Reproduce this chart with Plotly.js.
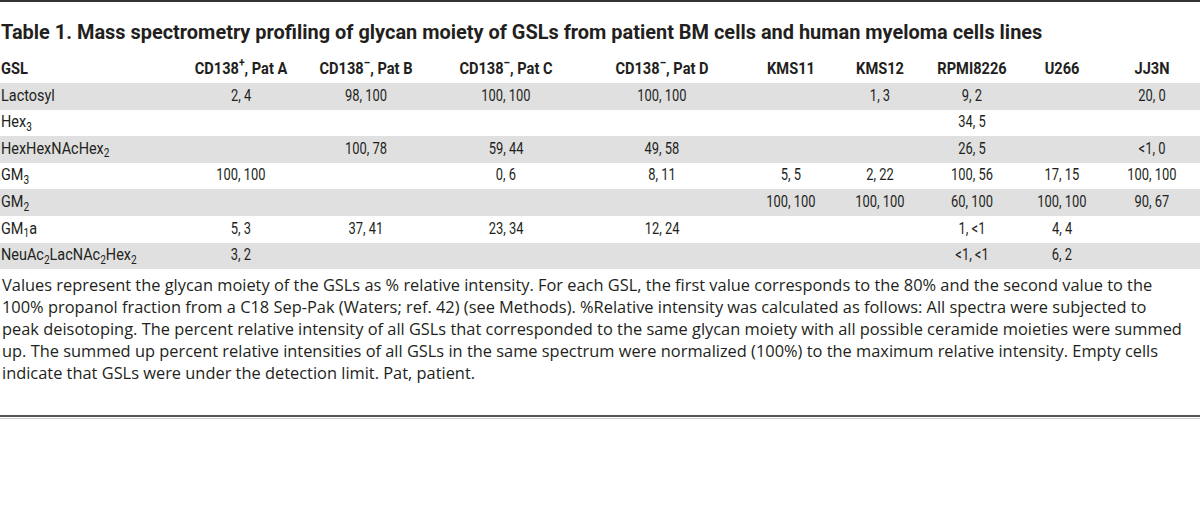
<!DOCTYPE html>
<html>
<head>
<meta charset="utf-8">
<script src="https://cdn.plot.ly/plotly-3.0.1.min.js"></script>
<style>
html,body{margin:0;padding:0;background:#fff;overflow:hidden;}
#chart{position:absolute;left:0;top:0;width:1200px;height:511px;}
</style>
</head>
<body>
<div id="chart"></div>
<script>
// ---- data ----
const tableTitle = "Table 1. Mass spectrometry profiling of glycan moiety of GSLs from patient BM cells and human myeloma cells lines";
const columnHeaders = ["GSL", "CD138<sup>+</sup>, Pat A", "CD138<sup>–</sup>, Pat B", "CD138<sup>–</sup>, Pat C", "CD138<sup>–</sup>, Pat D", "KMS11", "KMS12", "RPMI8226", "U266", "JJ3N"];
const gslNames = ["Lactosyl", "Hex<sub>3</sub>", "HexHexNAcHex<sub>2</sub>", "GM<sub>3</sub>", "GM<sub>2</sub>", "GM<sub>1</sub>a", "NeuAc<sub>2</sub>LacNAc<sub>2</sub>Hex<sub>2</sub>"];
const patA     = ["2, 4", "", "", "100, 100", "", "5, 3", "3, 2"];
const patB     = ["98, 100", "", "100, 78", "", "", "37, 41", ""];
const patC     = ["100, 100", "", "59, 44", "0, 6", "", "23, 34", ""];
const patD     = ["100, 100", "", "49, 58", "8, 11", "", "12, 24", ""];
const kms11    = ["", "", "", "5, 5", "100, 100", "", ""];
const kms12    = ["1, 3", "", "", "2, 22", "100, 100", "", ""];
const rpmi8226 = ["9, 2", "34, 5", "26, 5", "100, 56", "60, 100", "1, <1", "<1, <1"];
const u266     = ["", "", "", "17, 15", "100, 100", "4, 4", "6, 2"];
const jj3n     = ["20, 0", "", "<1, 0", "100, 100", "90, 67", "", ""];
const footnoteLines = [
  "Values represent the glycan moiety of the GSLs as % relative intensity. For each GSL, the first value corresponds to the 80% and the second value to the",
  "100% propanol fraction from a C18 Sep-Pak (Waters; ref. 42) (see Methods). %Relative intensity was calculated as follows: All spectra were subjected to",
  "peak deisotoping. The percent relative intensity of all GSLs that corresponded to the same glycan moiety with all possible ceramide moieties were summed",
  "up. The summed up percent relative intensities of all GSLs in the same spectrum were normalized (100%) to the maximum relative intensity. Empty cells",
  "indicate that GSLs were under the detection limit. Pat, patient."
];

// ---- layout (pixel space: x 0..1200, y 0..511 top-down) ----
const W = 1200, H = 511;
const tableFont = "Roboto, 'Liberation Sans', sans-serif";
const noteFont = "'Open Sans', 'Noto Sans', sans-serif";
const textColor = "#231f20";
const bandColor = "#e0e0e0";
const HEAD_SQUEEZE = 0.86, NAME_SQUEEZE = 0.85, VALUE_SQUEEZE = 0.76, TITLE_SQUEEZE = 0.95;

const colCenters = [0, 241, 366, 506, 662, 791, 880, 972, 1062, 1152];
const titleY = 32, headerY = 70, firstBandTop = 83, rowStep = 26.6;
const rowY = i => firstBandTop + rowStep * (i + 0.5);
const noteY0 = 284, noteStep = 22, bottomRuleY = 416;

const columns = [gslNames, patA, patB, patC, patD, kms11, kms12, rpmi8226, u266, jj3n];

const traces = [];
// grey bands on alternate rows
const bandRows = gslNames.map((_, i) => i).filter(i => i % 2 === 0);
traces.push({
  type: "bar", orientation: "h",
  y: bandRows.map(rowY), x: bandRows.map(() => W), base: 0,
  width: rowStep, marker: {color: bandColor, line: {width: 0}},
  hoverinfo: "skip", showlegend: false
});
// header texts
traces.push({
  type: "scatter", mode: "text",
  x: colCenters, y: colCenters.map(() => headerY),
  text: columnHeaders.map(h => "<b>" + h + "</b>"),
  textposition: colCenters.map((c, j) => j === 0 ? "middle right" : "middle center"),
  textfont: {family: tableFont, size: 17, color: textColor},
  hoverinfo: "skip", showlegend: false
});
// body cells, one trace per column (empty cells skipped)
columns.forEach((col, j) => {
  const idx = col.map((v, i) => i).filter(i => col[i] !== "");
  traces.push({
    type: "scatter", mode: "text",
    x: idx.map(() => colCenters[j]),
    y: idx.map(rowY),
    text: idx.map(i => col[i]),
    textposition: j === 0 ? "middle right" : "middle center",
    textfont: {family: tableFont, size: 17, color: textColor},
    hoverinfo: "skip", showlegend: false
  });
});

const layout = {
  width: W, height: H,
  margin: {l: 0, r: 0, t: 0, b: 0},
  paper_bgcolor: "#ffffff", plot_bgcolor: "#ffffff",
  showlegend: false,
  bargap: 0,
  xaxis: {range: [0, W], visible: false, fixedrange: true},
  yaxis: {range: [H, 0], visible: false, fixedrange: true},
  shapes: [
    {type: "line", xref: "x", yref: "y", x0: 0, x1: W, y0: 1, y1: 1, line: {color: "#333333", width: 2}},
    {type: "line", xref: "x", yref: "y", x0: 0, x1: W, y0: bottomRuleY, y1: bottomRuleY, line: {color: "#555555", width: 2}},
    {type: "line", xref: "x", yref: "y", x0: 0, x1: W, y0: bottomRuleY + 2.5, y1: bottomRuleY + 2.5, line: {color: "#cfcfcf", width: 1}}
  ],
  annotations: [
    {xref: "x", yref: "y", x: 0, y: titleY, xanchor: "left", yanchor: "middle", showarrow: false,
     text: "<b>" + tableTitle + "</b>", font: {family: tableFont, size: 21, color: textColor}}
  ].concat(footnoteLines.map((t, k) => ({
    xref: "x", yref: "y", x: 0, y: noteY0 + noteStep * k, xanchor: "left", yanchor: "middle", showarrow: false,
    text: t, font: {family: noteFont, size: 16.4, color: textColor}
  })))
};

Plotly.newPlot("chart", traces, layout, {staticPlot: true, displayModeBar: false}).then(gd => {
  // condense the table and title lettering horizontally (the original uses a condensed face)
  const svgLeft = gd.querySelector(".main-svg").getBoundingClientRect().left;
  const squeeze = (el, left, f) => {
    const bb = el.getBBox();
    const ox = left ? bb.x : bb.x + bb.width / 2;
    const prev = el.getAttribute("transform") || "";
    const tf = prev + " translate(" + ox + ",0) scale(" + f + ",1) translate(" + (-ox) + ",0)";
    el.setAttribute("transform", tf);
    if (left) {
      const dx = 1 - (el.getBoundingClientRect().left - svgLeft);
      el.setAttribute("transform", "translate(" + dx + ",0) " + tf);
    }
  };
  const textTraces = gd.querySelectorAll(".scatterlayer .trace");
  textTraces.forEach((tr, k) => {
    // k=0 header row, k=1 GSL names, others value columns
    tr.querySelectorAll(".textpoint text").forEach((t, n) => {
      if (k === 0) squeeze(t, n === 0, HEAD_SQUEEZE);
      else if (k === 1) squeeze(t, true, NAME_SQUEEZE);
      else squeeze(t, false, VALUE_SQUEEZE);
    });
  });
  const title = gd.querySelector(".annotation .annotation-text");
  if (title) squeeze(title, true, TITLE_SQUEEZE);
});
</script>
</body>
</html>
